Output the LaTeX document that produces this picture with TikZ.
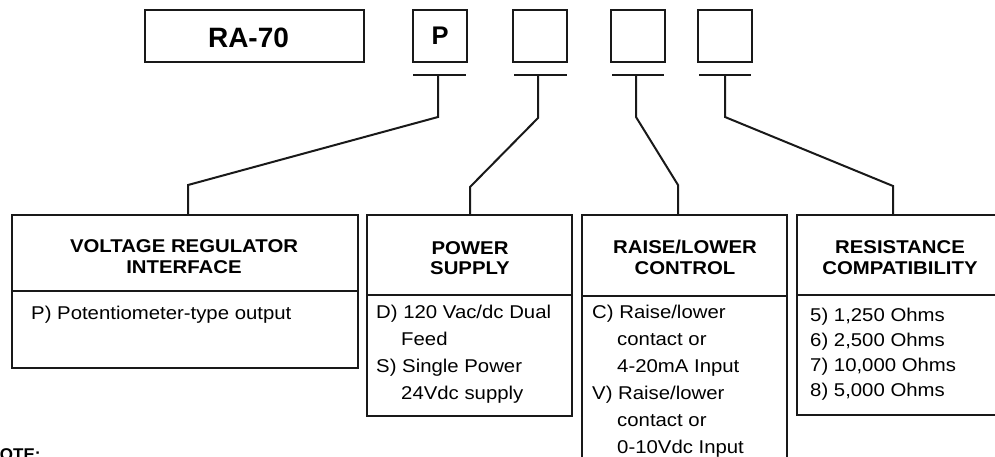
\documentclass[tikz,border=0pt]{standalone}
\usepackage{fontspec}
\setmainfont{Liberation Sans}
\newfontfamily\wideface[FakeStretch=1.1]{Liberation Sans}
\begin{document}
\begin{tikzpicture}[x=1pt,y=-1pt,
  line join=miter,
  frame/.style={draw=black!90, line width=2pt},
  conn/.style={draw=black!90, line width=2pt},
  head/.style={font=\wideface\fontsize{18.5}{20}\selectfont\bfseries, anchor=base, inner sep=0pt},
  body/.style={font=\wideface\fontsize{18.5}{20}\selectfont, anchor=base west, inner sep=0pt},
  code/.style={font=\fontsize{25.5}{28}\selectfont\bfseries, inner sep=0pt}]
\useasboundingbox (0,0) rectangle (995,456);
% top code boxes
\draw[frame] (145,10) rectangle (364,62);
\node[code, font=\fontsize{28}{30}\selectfont\bfseries] (ra) at (248.5,38) {RA-70};
\draw[frame] (413,10) rectangle (467,62);
\node[code] (p) at (440,36) {P};
\draw[frame] (513,10) rectangle (567,62);
\draw[frame] (611,10) rectangle (665,62);
\draw[frame] (698,10) rectangle (752,62);
% T bars
\coordinate (t1) at (438,75); \coordinate (t2) at (538,75);
\coordinate (t3) at (636,75); \coordinate (t4) at (725,75);
\draw[conn] (413,75) -- (466,75);
\draw[conn] (514,75) -- (567,75);
\draw[conn] (612,75) -- (664,75);
\draw[conn] (699,75) -- (751,75);
% boxes
\draw[frame] (12,215) rectangle (358,368);
\draw[frame] (12,291) -- (358,291);
\draw[frame] (367,215) rectangle (572,416);
\draw[frame] (367,295) -- (572,295);
\draw[frame] (582,470) -- (582,215) -- (787,215) -- (787,470);
\draw[frame] (582,296) -- (787,296);
\draw[frame] (1010,215) -- (797,215) -- (797,415) -- (1010,415);
\draw[frame] (797,295) -- (1010,295);
% box top anchors
\coordinate (b1) at (188,215); \coordinate (b2) at (470,215);
\coordinate (b3) at (678,215); \coordinate (b4) at (893,215);
% connectors
\draw[conn] (t1) -- (438,117) -- (188,185) -- (b1);
\draw[conn] (t2) -- (538,118) -- (470,187) -- (b2);
\draw[conn] (t3) -- (636,117) -- (678,185) -- (b3);
\draw[conn] (t4) -- (725,117) -- (893,186) -- (b4);
% headers
\node[head] (h1a) at (184,252.7) {VOLTAGE REGULATOR};
\node[head] (h1b) at (184,273.5) {INTERFACE};
\node[head] (h2a) at (470,254) {POWER};
\node[head] (h2b) at (470,274.5) {SUPPLY};
\node[head] (h3a) at (685,253) {RAISE/LOWER};
\node[head] (h3b) at (685,274) {CONTROL};
\node[head] (h4a) at (900,253) {RESISTANCE};
\node[head] (h4b) at (900,274) {COMPATIBILITY};
% bodies
\node[body] (d1) at (31,319) {P) Potentiometer-type output};
\node[body] (d2a) at (376,318) {D) 120 Vac/dc Dual};
\node[body] (d2b) at (401,345) {Feed};
\node[body] (d2c) at (376,372) {S) Single Power};
\node[body] (d2d) at (401,399) {24Vdc supply};
\node[body] (d3a) at (592,318) {C) Raise/lower};
\node[body] (d3b) at (617,345) {contact or};
\node[body] (d3c) at (617,372) {4-20mA Input};
\node[body] (d3d) at (592,399) {V) Raise/lower};
\node[body] (d3e) at (617,426) {contact or};
\node[body] (d3f) at (617,453) {0-10Vdc Input};
\node[body] (d4a) at (810,321.5) {5) 1,250 Ohms};
\node[body] (d4b) at (810,346.5) {6) 2,500 Ohms};
\node[body] (d4c) at (810,371.5) {7) 10,000 Ohms};
\node[body] (d4d) at (810,396.5) {8) 5,000 Ohms};
% note
\node[font=\fontsize{17}{20}\selectfont\bfseries, anchor=base west, inner sep=0pt] (note) at (-12.5,460.5) {NOTE:};
\end{tikzpicture}
\end{document}
